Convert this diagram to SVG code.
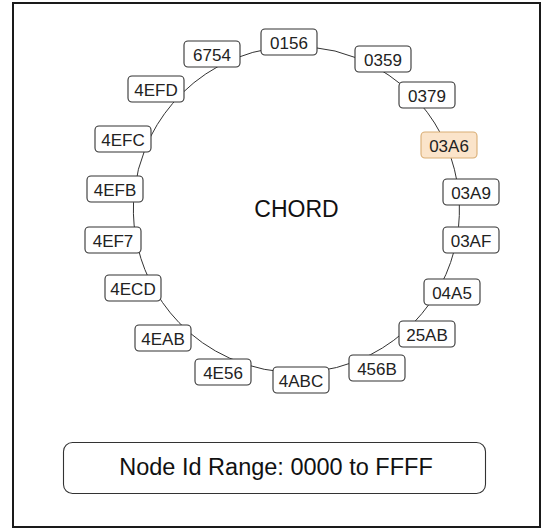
<svg xmlns="http://www.w3.org/2000/svg" width="545" height="529" viewBox="0 0 545 529">
<style>
.frame{fill:#fff;stroke:#1a1a1a;stroke-width:2}
.n rect{fill:#fff;stroke:#333;stroke-width:1.1}
.n.hl rect{fill:#fbe4ca;stroke:#d9ad74}
.n text{font-family:"Liberation Sans",Arial,sans-serif;font-size:17px;fill:#222;text-anchor:middle}
.c path{fill:none;stroke:#333;stroke-width:1}
.big{font-family:"Liberation Sans",Arial,sans-serif;font-size:23px;fill:#111;text-anchor:middle}
</style>
<rect class="frame" x="13" y="3" width="527" height="524"/>
<g id="connectors" class="c">
<path d="M289.3,46.7 A163,163 0 0 1 377.7,68.2"/>
<path d="M377.7,68.2 A163,163 0 0 1 419.0,102.1"/>
<path d="M419.0,102.1 A163,163 0 0 1 446.6,146.1"/>
<path d="M446.6,146.1 A163,163 0 0 1 458.6,193.3"/>
<path d="M458.6,193.3 A163,163 0 0 1 457.0,237.6"/>
<path d="M457.0,237.6 A163,163 0 0 1 440.4,285.9"/>
<path d="M440.4,285.9 A163,163 0 0 1 414.4,322.0"/>
<path d="M414.4,322.0 A163,163 0 0 1 370.3,354.8"/>
<path d="M370.3,354.8 A163,163 0 0 1 300.8,372.4"/>
<path d="M300.8,372.4 A163,163 0 0 1 229.3,358.0"/>
<path d="M229.3,358.0 A163,163 0 0 1 179.0,322.6"/>
<path d="M179.0,322.6 A163,163 0 0 1 149.5,280.1"/>
<path d="M149.5,280.1 A163,163 0 0 1 135.6,236.2"/>
<path d="M135.6,236.2 A163,163 0 0 1 134.4,191.2"/>
<path d="M134.4,191.2 A163,163 0 0 1 145.4,148.1"/>
<path d="M145.4,148.1 A163,163 0 0 1 172.7,103.4"/>
<path d="M172.7,103.4 A163,163 0 0 1 218.6,66.2"/>
<path d="M218.6,66.2 A163,163 0 0 1 289.3,46.7"/>
</g>
<g id="n0156" class="n"><rect x="261" y="29" width="56" height="26" rx="4"/><text x="289" y="49">0156</text></g>
<g id="n0359" class="n"><rect x="355" y="46" width="56" height="26" rx="4"/><text x="383" y="66">0359</text></g>
<g id="n0379" class="n"><rect x="399" y="82" width="56" height="26" rx="4"/><text x="427" y="102">0379</text></g>
<g id="n03A6" class="n hl"><rect x="421" y="132" width="56" height="26" rx="4"/><text x="449" y="152">03A6</text></g>
<g id="n03A9" class="n"><rect x="443" y="179" width="56" height="26" rx="4"/><text x="471" y="199">03A9</text></g>
<g id="n03AF" class="n"><rect x="443" y="227" width="56" height="26" rx="4"/><text x="471" y="247">03AF</text></g>
<g id="n04A5" class="n"><rect x="424" y="279" width="56" height="26" rx="4"/><text x="452" y="299">04A5</text></g>
<g id="n25AB" class="n"><rect x="399" y="321" width="56" height="26" rx="4"/><text x="427" y="341">25AB</text></g>
<g id="n456B" class="n"><rect x="349" y="355" width="56" height="26" rx="4"/><text x="377" y="375">456B</text></g>
<g id="n4ABC" class="n"><rect x="273" y="367" width="56" height="26" rx="4"/><text x="301" y="387">4ABC</text></g>
<g id="n4E56" class="n"><rect x="195" y="359" width="56" height="26" rx="4"/><text x="223" y="379">4E56</text></g>
<g id="n4EAB" class="n"><rect x="135" y="325" width="56" height="26" rx="4"/><text x="163" y="345">4EAB</text></g>
<g id="n4ECD" class="n"><rect x="105" y="275" width="56" height="26" rx="4"/><text x="133" y="295">4ECD</text></g>
<g id="n4EF7" class="n"><rect x="85" y="227" width="56" height="26" rx="4"/><text x="113" y="247">4EF7</text></g>
<g id="n4EFB" class="n"><rect x="87" y="176" width="56" height="26" rx="4"/><text x="115" y="196">4EFB</text></g>
<g id="n4EFC" class="n"><rect x="95" y="126" width="56" height="26" rx="4"/><text x="123" y="146">4EFC</text></g>
<g id="n4EFD" class="n"><rect x="128" y="76" width="56" height="26" rx="4"/><text x="156" y="96">4EFD</text></g>
<g id="n6754" class="n"><rect x="184" y="41" width="56" height="26" rx="4"/><text x="212" y="61">6754</text></g>
<g id="chord"><text class="big" x="296.5" y="217">CHORD</text></g>
<g id="range"><rect x="63.5" y="442.5" width="422" height="51" rx="9" fill="#fff" stroke="#333" stroke-width="1.1"/><text class="big" x="276" y="475" style="font-size:23.5px">Node Id Range: 0000 to FFFF</text></g>
</svg>
